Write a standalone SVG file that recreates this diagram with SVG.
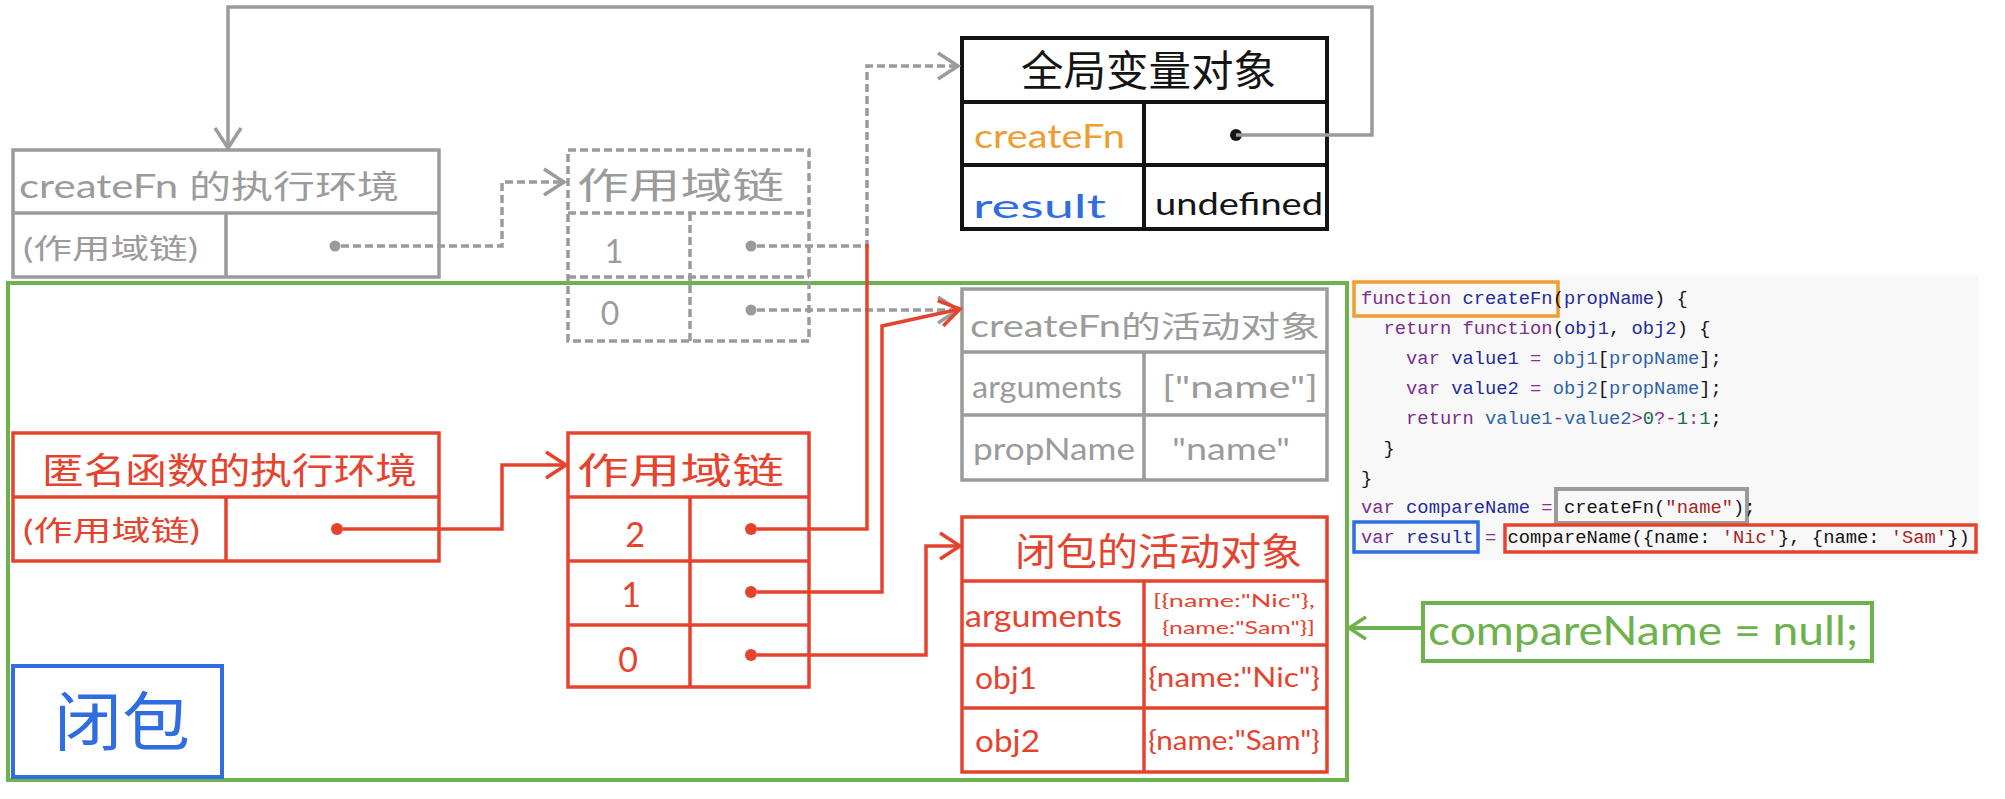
<svg xmlns="http://www.w3.org/2000/svg" width="2005" height="799" viewBox="0 0 2005 799">
<style>
.box{fill:none;stroke-width:3.5;stroke-linejoin:miter}
.g{stroke:#9b9b9b}.r{stroke:#e5432e}.k{stroke:#141414;stroke-width:4}.gr{stroke:#6db24c}.bl{stroke:#2f6de1}.or{stroke:#ee9d30}
.dash{stroke-dasharray:8 4}
.hw{font-family:"Lato","Noto Sans CJK SC",sans-serif;dominant-baseline:central}
.tg{fill:#9b9b9b}.tr{fill:#e5432e}.tk{fill:#141414}.tgr{fill:#6db24c}.tbl{fill:#2f6de1}.tor{fill:#ee9d30}
.conn{fill:none;stroke-width:3.5}
.code{font-family:"Liberation Mono",monospace;font-size:18.8px;fill:#141414}
.kw{fill:#7b2d8e}.df{fill:#232b9c}.v2{fill:#2f62a8}.nm{fill:#1a6b4a}.st{fill:#a8231f}.op{fill:#8a2e8e}
</style>
<defs>
<marker id="ag" viewBox="0 0 26 32" refX="23" refY="16" markerWidth="26" markerHeight="32" markerUnits="userSpaceOnUse" orient="auto" overflow="visible"><path d="M3,3 L23,16 L3,29" fill="none" stroke="#9b9b9b" stroke-width="3.5"/></marker>
<marker id="ar" viewBox="0 0 26 32" refX="23" refY="16" markerWidth="26" markerHeight="32" markerUnits="userSpaceOnUse" orient="auto" overflow="visible"><path d="M3,3 L23,16 L3,29" fill="none" stroke="#e5432e" stroke-width="3.5"/></marker>
<marker id="agr" viewBox="0 0 26 32" refX="23" refY="16" markerWidth="22" markerHeight="30" markerUnits="userSpaceOnUse" orient="auto" overflow="visible"><path d="M3,3 L23,16 L3,29" fill="none" stroke="#6db24c" stroke-width="4"/></marker>
</defs>
<rect width="2005" height="799" fill="#ffffff"/>

<!-- code panel -->
<g id="code">
<rect x="1350" y="275" width="629" height="285" fill="#f8f8f8"/>
<rect class="box or" x="1354" y="282" width="204" height="34"/>
<rect class="box g" x="1556" y="489" width="191" height="34" style="stroke-width:4"/>
<rect class="box bl" x="1354" y="522" width="124" height="30"/>
<rect class="box r" x="1505" y="525" width="471" height="27"/>
<text class="code" x="1361" y="304" xml:space="preserve"><tspan class="kw">function</tspan> <tspan class="df">createFn</tspan>(<tspan class="df">propName</tspan>) {</text>
<text class="code" x="1361" y="334" xml:space="preserve">  <tspan class="kw">return</tspan> <tspan class="kw">function</tspan>(<tspan class="df">obj1</tspan>, <tspan class="df">obj2</tspan>) {</text>
<text class="code" x="1361" y="364" xml:space="preserve">    <tspan class="kw">var</tspan> <tspan class="df">value1</tspan> <tspan class="op">=</tspan> <tspan class="v2">obj1</tspan>[<tspan class="v2">propName</tspan>];</text>
<text class="code" x="1361" y="394" xml:space="preserve">    <tspan class="kw">var</tspan> <tspan class="df">value2</tspan> <tspan class="op">=</tspan> <tspan class="v2">obj2</tspan>[<tspan class="v2">propName</tspan>];</text>
<text class="code" x="1361" y="424" xml:space="preserve">    <tspan class="kw">return</tspan> <tspan class="v2">value1</tspan><tspan class="op">-</tspan><tspan class="v2">value2</tspan><tspan class="op">&gt;</tspan><tspan class="nm">0</tspan><tspan class="op">?-</tspan><tspan class="nm">1</tspan><tspan class="op">:</tspan><tspan class="nm">1</tspan>;</text>
<text class="code" x="1361" y="454" xml:space="preserve">  }</text>
<text class="code" x="1361" y="484" xml:space="preserve">}</text>
<text class="code" x="1361" y="513" xml:space="preserve"><tspan class="kw">var</tspan> <tspan class="df">compareName</tspan> <tspan class="op">=</tspan> createFn(<tspan class="st">"name"</tspan>);</text>
<text class="code" x="1361" y="543" xml:space="preserve"><tspan class="kw">var</tspan> <tspan class="df">result</tspan> <tspan class="op">=</tspan> compareName({name: <tspan class="st">'Nic'</tspan>}, {name: <tspan class="st">'Sam'</tspan>})</text>
</g>

<!-- green closure frame -->
<g id="closure-frame">
<rect class="box gr" x="8" y="283" width="1339" height="497" style="stroke-width:4"/>
</g>

<g id="closure-label">
<rect class="box bl" x="13" y="666" width="209" height="111" style="stroke-width:4"/>
<text class="hw tbl" x="54" y="720" font-size="64" textLength="136" lengthAdjust="spacingAndGlyphs">闭包</text>
</g>

<g id="createFn-exec-env">
<rect class="box g" x="13" y="150" width="426" height="127"/>
<line class="box g" x1="13" y1="213" x2="439" y2="213"/>
<line class="box g" x1="226" y1="213" x2="226" y2="277"/>
<text class="hw tg" x="19" y="185" font-size="32" textLength="380" lengthAdjust="spacingAndGlyphs">createFn 的执行环境</text>
<text class="hw tg" x="23" y="248" font-size="28" textLength="175" lengthAdjust="spacingAndGlyphs">(作用域链)</text>
<circle cx="335" cy="246" r="5.5" fill="#9b9b9b"/>
</g>

<g id="createFn-scope-chain">
<rect class="box g dash" x="568" y="150" width="241" height="191"/>
<line class="box g dash" x1="568" y1="213" x2="809" y2="213"/>
<line class="box g dash" x1="568" y1="277" x2="809" y2="277"/>
<line class="box g dash" x1="690" y1="213" x2="690" y2="341"/>
<text class="hw tg" x="577" y="185" font-size="36" textLength="207" lengthAdjust="spacingAndGlyphs">作用域链</text>
<text class="hw tg" x="614" y="250" font-size="32" text-anchor="middle">1</text>
<text class="hw tg" x="610" y="312" font-size="32" text-anchor="middle">0</text>
<circle cx="751" cy="246" r="5.5" fill="#9b9b9b"/>
<circle cx="751" cy="310" r="5.5" fill="#9b9b9b"/>
</g>

<g id="global-object">
<rect class="box k" x="962" y="38" width="365" height="191"/>
<line class="box k" x1="962" y1="102" x2="1327" y2="102"/>
<line class="box k" x1="962" y1="165" x2="1327" y2="165"/>
<line class="box k" x1="1144" y1="102" x2="1144" y2="229"/>
<text class="hw tk" x="1021" y="70" font-size="42" textLength="255" lengthAdjust="spacingAndGlyphs">全局变量对象</text>
<text class="hw tor" x="974" y="135" font-size="32" textLength="151" lengthAdjust="spacingAndGlyphs">createFn</text>
<text class="hw tbl" x="973" y="205" font-size="32" textLength="133" lengthAdjust="spacingAndGlyphs">result</text>
<text class="hw tk" x="1155" y="203" font-size="30" textLength="168" lengthAdjust="spacingAndGlyphs">undefined</text>
<circle cx="1236" cy="135" r="6" fill="#141414"/>
</g>

<g id="createFn-activation">
<rect class="box g" x="962" y="289" width="365" height="191"/>
<line class="box g" x1="962" y1="352" x2="1327" y2="352"/>
<line class="box g" x1="962" y1="415" x2="1327" y2="415"/>
<line class="box g" x1="1144" y1="352" x2="1144" y2="480"/>
<text class="hw tg" x="970" y="325" font-size="30" textLength="350" lengthAdjust="spacingAndGlyphs">createFn的活动对象</text>
<text class="hw tg" x="972" y="386" font-size="30" textLength="150" lengthAdjust="spacingAndGlyphs">arguments</text>
<text class="hw tg" x="1162" y="386" font-size="30" textLength="156" lengthAdjust="spacingAndGlyphs">["name"]</text>
<text class="hw tg" x="973" y="448" font-size="30" textLength="162" lengthAdjust="spacingAndGlyphs">propName</text>
<text class="hw tg" x="1172" y="448" font-size="30" textLength="118" lengthAdjust="spacingAndGlyphs">"name"</text>
</g>

<g id="anon-exec-env">
<rect class="box r" x="13" y="433" width="426" height="128"/>
<line class="box r" x1="13" y1="497" x2="439" y2="497"/>
<line class="box r" x1="226" y1="497" x2="226" y2="561"/>
<text class="hw tr" x="42" y="470" font-size="36" textLength="375" lengthAdjust="spacingAndGlyphs">匿名函数的执行环境</text>
<text class="hw tr" x="23" y="530" font-size="28" textLength="177" lengthAdjust="spacingAndGlyphs">(作用域链)</text>
<circle cx="337" cy="529" r="6" fill="#e5432e"/>
</g>

<g id="anon-scope-chain">
<rect class="box r" x="568" y="433" width="241" height="254"/>
<line class="box r" x1="568" y1="497" x2="809" y2="497"/>
<line class="box r" x1="568" y1="561" x2="809" y2="561"/>
<line class="box r" x1="568" y1="625" x2="809" y2="625"/>
<line class="box r" x1="690" y1="497" x2="690" y2="687"/>
<text class="hw tr" x="577" y="470" font-size="36" textLength="207" lengthAdjust="spacingAndGlyphs">作用域链</text>
<text class="hw tr" x="635" y="533" font-size="34" text-anchor="middle">2</text>
<text class="hw tr" x="631" y="593" font-size="34" text-anchor="middle">1</text>
<text class="hw tr" x="628" y="658" font-size="34" text-anchor="middle">0</text>
<circle cx="751" cy="529" r="6" fill="#e5432e"/>
<circle cx="751" cy="592" r="6" fill="#e5432e"/>
<circle cx="751" cy="655" r="6" fill="#e5432e"/>
</g>

<g id="closure-activation">
<rect class="box r" x="962" y="517" width="365" height="255"/>
<line class="box r" x1="962" y1="581" x2="1327" y2="581"/>
<line class="box r" x1="962" y1="645" x2="1327" y2="645"/>
<line class="box r" x1="962" y1="708" x2="1327" y2="708"/>
<line class="box r" x1="1144" y1="581" x2="1144" y2="772"/>
<text class="hw tr" x="1015" y="550" font-size="38" textLength="287" lengthAdjust="spacingAndGlyphs">闭包的活动对象</text>
<text class="hw tr" x="965" y="615" font-size="30" textLength="157" lengthAdjust="spacingAndGlyphs">arguments</text>
<text class="hw tr" x="1153" y="600" font-size="18" textLength="162" lengthAdjust="spacingAndGlyphs">[{name:"Nic"},</text>
<text class="hw tr" x="1162" y="627" font-size="18" textLength="153" lengthAdjust="spacingAndGlyphs">{name:"Sam"}]</text>
<text class="hw tr" x="975" y="677" font-size="30" textLength="62" lengthAdjust="spacingAndGlyphs">obj1</text>
<text class="hw tr" x="1148" y="677" font-size="26" textLength="172" lengthAdjust="spacingAndGlyphs">{name:"Nic"}</text>
<text class="hw tr" x="975" y="740" font-size="30" textLength="65" lengthAdjust="spacingAndGlyphs">obj2</text>
<text class="hw tr" x="1148" y="740" font-size="26" textLength="172" lengthAdjust="spacingAndGlyphs">{name:"Sam"}</text>
</g>

<g id="compareName-null">
<rect class="box gr" x="1423" y="603" width="449" height="58" style="stroke-width:4"/>
<text class="hw tgr" x="1428" y="630" font-size="40" textLength="430" lengthAdjust="spacingAndGlyphs">compareName = null;</text>
</g>

<g id="connectors">
<polyline class="conn g" points="1236,135 1372,135 1372,7 228,7 228,148" marker-end="url(#ag)"/>
<polyline class="conn g dash" points="341,246 502,246 502,182 564,182" marker-end="url(#ag)"/>
<polyline class="conn g dash" points="757,246 867,246 867,66 958,66" marker-end="url(#ag)"/>
<polyline class="conn g dash" points="757,310 958,310" marker-end="url(#ag)"/>
<polyline class="conn r" points="343,529 502,529 502,465 566,465" marker-end="url(#ar)"/>
<polyline class="conn r" points="757,529 867,529 867,244"/>
<polyline class="conn r" points="757,592 882,592 882,326 960,309" marker-end="url(#ar)"/>
<polyline class="conn r" points="757,655 926,655 926,546 960,546" marker-end="url(#ar)"/>
<polyline class="conn gr" points="1422,628 1349,628" style="stroke-width:4" marker-end="url(#agr)"/>
</g>
</svg>
